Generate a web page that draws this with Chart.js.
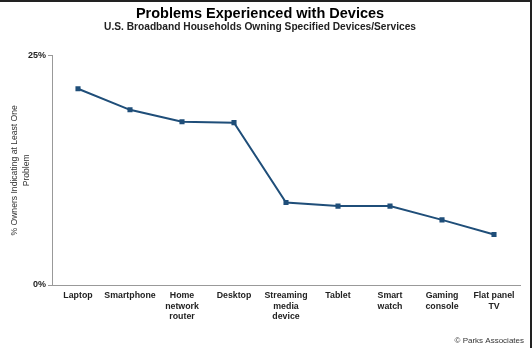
<!DOCTYPE html>
<html>
<head>
<meta charset="utf-8">
<script src="https://cdn.jsdelivr.net/npm/chart.js@4/dist/chart.umd.min.js"></script>
<style>
  html, body { margin: 0; padding: 0; background: #fff; }
  #frame {
    width: 530px; height: 346px;
    border-top: 2px solid #222;
    border-right: 2px solid #222;
  }
</style>
</head>
<body>
<div id="frame"><canvas id="chart" width="530" height="346"></canvas></div>
<script>
const devices = [
  'Laptop', 'Smartphone', ['Home', 'network', 'router'], 'Desktop',
  ['Streaming', 'media', 'device'], 'Tablet', ['Smart', 'watch'],
  ['Gaming', 'console'], ['Flat panel', 'TV']
];
const problemShare = [21.4, 19.1, 17.8, 17.7, 9.0, 8.6, 8.6, 7.1, 5.5];
const yTicks = [0, 25];

const lineBlue = '#1f4e79';
const font = '"Liberation Sans", Arial, sans-serif';

// credit line in the bottom right corner
const creditPlugin = {
  id: 'credit',
  afterDraw(chart) {
    const ctx = chart.ctx;
    ctx.save();
    ctx.font = '8px ' + font;
    ctx.fillStyle = '#333';
    ctx.textAlign = 'right';
    ctx.textBaseline = 'middle';
    ctx.fillText('\u00A9 Parks Associates', 524, 339);
    ctx.restore();
  }
};

let canvasElem = document.getElementById('chart');

new Chart(canvasElem, {
  type: 'line',
  data: {
    labels: devices,
    datasets: [{
      label: 'Problems',
      data: problemShare,
      borderColor: lineBlue,
      backgroundColor: lineBlue,
      borderWidth: 2,
      pointStyle: 'rect',
      pointRadius: 3.6,
      pointBorderWidth: 0,
      tension: 0
    }]
  },
  options: {
    responsive: false,
    animation: false,
    layout: { padding: { left: 0, right: 10, top: 0, bottom: 0 } },
    plugins: {
      legend: { display: false },
      tooltip: { enabled: false },
      title: {
        display: true,
        text: 'Problems Experienced with Devices',
        color: '#000',
        font: { family: font, size: 14.5, weight: 'bold', lineHeight: 1.0 },
        padding: { top: 5, bottom: 1 }
      },
      subtitle: {
        display: true,
        text: 'U.S. Broadband Households Owning Specified Devices/Services',
        color: '#222',
        font: { family: font, size: 10.2, weight: 'bold', lineHeight: 1.0 },
        padding: { top: 0, bottom: 23 }
      }
    },
    scales: {
      x: {
        offset: true,
        grid: { display: false, drawTicks: false },
        border: { display: true, color: '#999', width: 1 },
        ticks: {
          color: '#222',
          maxRotation: 0,
          autoSkip: false,
          padding: 6,
          font: { family: font, size: 8.8, weight: 'bold', lineHeight: 1.15 }
        },
        afterFit(scale) { scale.height = 63; }
      },
      y: {
        min: 0,
        max: 25,
        afterBuildTicks(scale) { scale.ticks = yTicks.map(v => ({ value: v })); },
        grid: { drawOnChartArea: false, drawTicks: true, tickLength: 4, color: '#999' },
        border: { display: true, color: '#999', width: 1 },
        ticks: {
          color: '#222',
          padding: 2,
          font: { family: font, size: 9, weight: 'bold' },
          callback: v => v + '%'
        },
        title: {
          display: true,
          text: ['% Owners Indicating at Least One', 'Problem'],
          color: '#333',
          padding: { top: 9, bottom: 0 },
          font: { family: font, size: 8.6, lineHeight: 1.35 }
        },
        afterFit(scale) { scale.width = 52; }
      }
    }
  },
  plugins: [creditPlugin]
});
</script>
</body>
</html>
